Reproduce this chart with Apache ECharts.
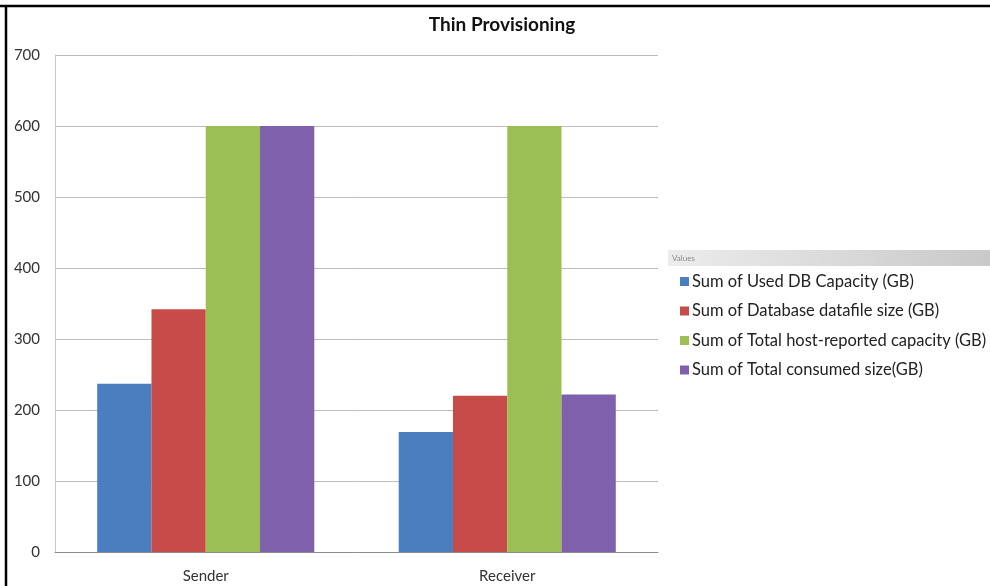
<!DOCTYPE html>
<html>
<head>
<meta charset="utf-8">
<script src="https://cdn.jsdelivr.net/npm/echarts@6/dist/echarts.min.js"></script>
<style>
html,body{margin:0;padding:0;background:#fff;}
#chart{width:990px;height:586px;}
</style>
</head>
<body>
<div id="chart"></div>
<script>
const categories = ['Sender', 'Receiver'];
const seriesNames = [
  'Sum of Used DB Capacity (GB)',
  'Sum of Database datafile size (GB)',
  'Sum of Total host-reported capacity (GB)',
  'Sum of Total consumed size(GB)'
];
const usedDbCapacity = [237, 169];
const datafileSize = [342, 220];
const hostReportedCapacity = [600, 600];
const consumedSize = [600, 222];
const yTicks = [0, 100, 200, 300, 400, 500, 600, 700];

const colors = ['#4a7ebf', '#c64b49', '#9bbf52', '#7f60aa'];
const values = [usedDbCapacity, datafileSize, hostReportedCapacity, consumedSize];
const FONT = 'Lato, "Open Sans", sans-serif';

const chart = echarts.init(document.getElementById('chart'), null, {renderer: 'canvas'});
chart.setOption({
  animation: false,
  backgroundColor: '#ffffff',
  title: {
    text: 'Thin Provisioning',
    left: 497, top: 10, textAlign: 'center',
    textStyle: {fontFamily: FONT, fontWeight: 'bold', fontSize: 19, color: '#111'}
  },
  legend: {
    orient: 'vertical',
    left: 675, top: 268,
    itemWidth: 9, itemHeight: 9,
    itemGap: 12.5,
    icon: 'rect',
    data: seriesNames,
    textStyle: {fontFamily: FONT, fontSize: 16.5, color: '#222', padding: [0, 0, 0, -2]}
  },
  grid: {left: 55, right: 332, top: 55, bottom: 34, containLabel: false},
  xAxis: {
    type: 'category',
    data: categories,
    axisLine: {show: true, lineStyle: {color: '#8c8c8c', width: 1}},
    axisTick: {show: false},
    axisLabel: {fontFamily: FONT, fontSize: 15, color: '#333', margin: 17}
  },
  yAxis: {
    type: 'value',
    min: yTicks[0], max: yTicks[yTicks.length - 1], interval: 100,
    axisLine: {show: true, lineStyle: {color: '#c8c8c8', width: 1}},
    axisTick: {show: false},
    axisLabel: {fontFamily: FONT, fontSize: 15, color: '#333', margin: 15},
    splitLine: {show: true, lineStyle: {color: '#bdbdbd', width: 1}}
  },
  series: seriesNames.map((name, i) => ({
    name: name,
    type: 'bar',
    data: values[i],
    barGap: '0%',
    barCategoryGap: '28%',
    itemStyle: {color: colors[i]}
  })),
  graphic: [
    {type: 'rect', shape: {x: 668, y: 250, width: 322, height: 16},
     style: {fill: new echarts.graphic.LinearGradient(0, 0, 1, 0, [
       {offset: 0, color: '#ececec'}, {offset: 1, color: '#c9c9c9'}])}},
    {type: 'text', x: 672, y: 254,
     style: {text: 'Values', fontFamily: FONT, fontSize: 8, fill: '#8a8a8a'}},
    {type: 'line', shape: {x1: 0, y1: 6, x2: 990, y2: 6}, style: {stroke: '#000', lineWidth: 2.5}},
    {type: 'line', shape: {x1: 6, y1: 5, x2: 6, y2: 586}, style: {stroke: '#000', lineWidth: 2.5}}
  ]
});
</script>
</body>
</html>
